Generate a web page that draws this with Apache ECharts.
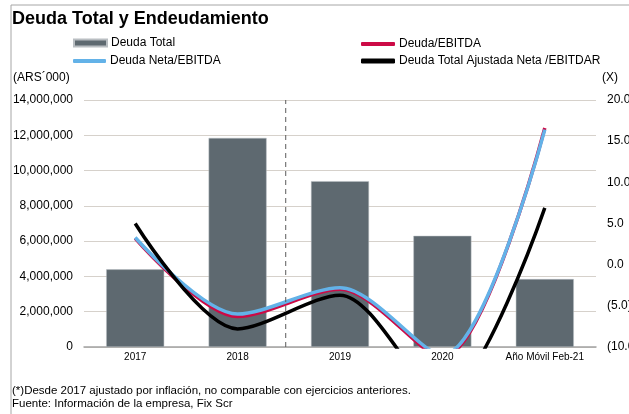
<!DOCTYPE html>
<html>
<head>
<meta charset="utf-8">
<title>Deuda Total y Endeudamiento</title>
<script src="https://cdn.jsdelivr.net/npm/echarts@6/dist/echarts.min.js"></script>
<style>
  html, body { margin: 0; padding: 0; background: #fff; }
  #chart { width: 629px; height: 414px; }
</style>
</head>
<body>
<div id="chart"></div>
<script>
// categories
var categories = ['2017', '2018', '2019', '2020', 'Año Móvil Feb-21'];
// Deuda Total (ARS'000), left axis
var deudaTotal = [4400000, 11850000, 9400000, 6300000, 3850000];
// ratios (x), right axis; 2020 falls below the axis floor and is clipped
var deudaEbitda = [3.2, -6.3, -3.0, -11.3, 16.6];
var deudaNetaEbitda = [3.3, -6.0, -2.8, -11.0, 16.4];
var deudaAjustada = [5.0, -7.8, -3.7, -16.0, 6.9];
// dashed divider, in category units (between 2018 and 2019)
var dividerAt = 1.47;

var font = '"Liberation Sans", Arial, sans-serif';
var colors = { bar: '#5e6970', red: '#cc0a46', blue: '#63b2e8', black: '#000000' };

// one legend block per item, so they sit in two columns like the original
function legendItem(name, left, top, icon, w, h) {
    return {
        left: left, top: top, padding: 0,
        selectedMode: false,
        itemWidth: w, itemHeight: h, itemGap: 0,
        data: [{ name: name, icon: icon }],
        textStyle: { fontFamily: font, fontSize: 12, color: '#000', padding: [0, 0, 0, -1] }
    };
}

function ratioLabel(v) {
    return v < 0 ? '(' + (-v).toFixed(1) + ')' : v.toFixed(1);
}

function ratioSeries(name, data, color) {
    return {
        name: name,
        type: 'line',
        yAxisIndex: 1,
        data: data,
        smooth: 0.3,
        symbol: 'none',
        itemStyle: { color: color },
        lineStyle: { color: color, width: 3.5 }
    };
}

var chart = echarts.init(document.getElementById('chart'), null, { renderer: 'canvas' });

chart.setOption({
    animation: false,
    textStyle: { fontFamily: font },
    title: {
        text: 'Deuda Total y Endeudamiento',
        left: 12, top: 10, padding: 0,
        textStyle: { fontFamily: font, fontSize: 18, fontWeight: 'bold', color: '#000' }
    },
    legend: [
        legendItem('Deuda Total', 73, 37, 'rect', 33, 7),
        legendItem('Deuda Neta/EBITDA', 73, 55, 'roundRect', 33, 4),
        legendItem('Deuda/EBITDA', 361, 38, 'roundRect', 34, 4),
        legendItem('Deuda Total Ajustada Neta /EBITDAR', 361, 55, 'roundRect', 34, 5)
    ],
    grid: { left: 84, right: 33, top: 100, bottom: 67, outerBoundsMode: 'none' },
    xAxis: [{
        type: 'category',
        data: categories,
        axisLine: { lineStyle: { color: '#a3a3a3', width: 1.5 } },
        axisTick: { show: false },
        axisLabel: { fontSize: 10, color: '#000', margin: 5, interval: 0 }
    }, {
        // helper axis for the divider line
        type: 'value', show: false, min: -0.5, max: 4.5
    }],
    yAxis: [{
        type: 'value',
        min: 0, max: 14000000, interval: 2000000,
        axisLine: { show: false },
        axisTick: { show: false },
        splitLine: { lineStyle: { color: '#d6d1cb', width: 1 } },
        axisLabel: {
            fontSize: 12, color: '#000', margin: 11,
            formatter: function (v) { return v.toLocaleString('en-US'); }
        }
    }, {
        type: 'value',
        min: -10, max: 20, interval: 5,
        axisLine: { show: false },
        axisTick: { show: false },
        splitLine: { show: false },
        axisLabel: { fontSize: 12, color: '#000', margin: 11, formatter: ratioLabel }
    }],
    graphic: [
        // frame
        { type: 'line', shape: { x1: 11, y1: 5, x2: 629, y2: 5 }, style: { stroke: '#a6a6a6', lineWidth: 1 } },
        { type: 'line', shape: { x1: 11, y1: 5, x2: 11, y2: 414 }, style: { stroke: '#a6a6a6', lineWidth: 1 } },
        // axis units
        { type: 'text', left: 13, top: 72, style: { text: '(ARS´000)', font: '12px ' + font, fill: '#000' } },
        { type: 'text', left: 602, top: 72, style: { text: '(X)', font: '12px ' + font, fill: '#000' } },
        // notes
        { type: 'text', left: 12, top: 385, style: { text: '(*)Desde 2017 ajustado por inflación, no comparable con ejercicios anteriores.', font: '11.5px ' + font, fill: '#000' } },
        { type: 'text', left: 12, top: 398, style: { text: 'Fuente: Información de la empresa, Fix Scr', font: '11.5px ' + font, fill: '#000' } }
    ],
    series: [{
        name: 'Deuda Total',
        type: 'bar',
        data: deudaTotal,
        barWidth: 58,
        itemStyle: { color: colors.bar, borderColor: '#b9bec2', borderWidth: 0.5 }
    },
    ratioSeries('Deuda/EBITDA', deudaEbitda, colors.red),
    ratioSeries('Deuda Neta/EBITDA', deudaNetaEbitda, colors.blue),
    ratioSeries('Deuda Total Ajustada Neta /EBITDAR', deudaAjustada, colors.black),
    {
        name: 'divider',
        type: 'line',
        xAxisIndex: 1,
        yAxisIndex: 1,
        data: [[dividerAt, -10], [dividerAt, 20]],
        symbol: 'none',
        silent: true,
        lineStyle: { color: '#5a5a5a', width: 1, type: [5, 4] }
    }]
});
</script>
</body>
</html>
